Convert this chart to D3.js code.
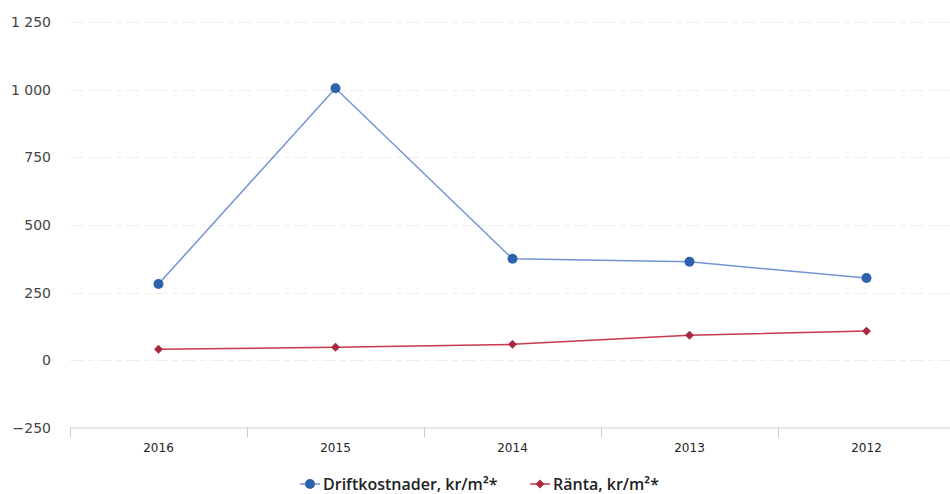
<!DOCTYPE html>
<html>
<head>
<meta charset="utf-8">
<script src="https://cdn.jsdelivr.net/npm/d3@7"></script>
<style>
  html, body { margin: 0; padding: 0; background: #ffffff; }
  svg { display: block; }
</style>
</head>
<body>
<svg id="chart" width="950" height="494"></svg>
<script>
// Data
const years = ["2016", "2015", "2014", "2013", "2012"];
const driftkostnader = [282, 1005, 375, 364, 304];
const ranta = [41, 48, 59, 93, 108];
const yTicks = [-250, 0, 250, 500, 750, 1000, 1250];
const seriesNames = ["Driftkostnader, kr/m²*", "Ränta, kr/m²*"];

const svg = d3.select("#chart");
const margin = { left: 70, right: -5, top: 22, bottom: 67 };
const W = 950, H = 494;

const x = d3.scaleBand()
  .domain(years)
  .range([margin.left, W - margin.right])
  .paddingInner(0).paddingOuter(0);

const y = d3.scaleLinear()
  .domain([-250, 1250])
  .range([428, 22]);

// Horizontal grid lines
svg.append("g")
  .selectAll("line")
  .data(yTicks.filter(d => d !== -250))
  .join("line")
  .attr("x1", margin.left)
  .attr("x2", W)
  .attr("y1", d => Math.round(y(d)) + 0.5)
  .attr("y2", d => Math.round(y(d)) + 0.5)
  .attr("stroke", "#eeeeee")
  .attr("stroke-width", 1)
  .attr("stroke-dasharray", "14,4,6,4");

// Y axis labels
const fmt = d => d3.format(",")(d).replace(/,/g, " ").replace("-", "\u2212");
svg.append("g")
  .selectAll("text")
  .data(yTicks)
  .join("text")
  .attr("x", 51)
  .attr("y", d => y(d))
  .attr("dy", "0.35em")
  .attr("text-anchor", "end")
  .attr("font-family", "'DejaVu Sans', sans-serif")
  .attr("font-size", 14)
  .attr("fill", "#444")
  .text(fmt);

// X axis
const xAxis = d3.axisBottom(x).tickSize(0).tickPadding(0);
const gx = svg.append("g")
  .attr("transform", `translate(0, ${Math.round(y(-250)) - 0.5})`)
  .call(xAxis);
gx.select(".domain").attr("stroke", "#cccccc");
gx.selectAll(".tick text")
  .attr("y", 16)
  .attr("font-family", "'DejaVu Sans', sans-serif")
  .attr("font-size", 12)
  .attr("fill", "#222");

// Tick marks at category boundaries
const bounds = years.map(d => x(d)).concat([x(years[years.length - 1]) + x.bandwidth()]);
gx.append("g")
  .selectAll("line")
  .data(bounds)
  .join("line")
  .attr("x1", d => Math.round(d) + 0.5)
  .attr("x2", d => Math.round(d) + 0.5)
  .attr("y1", 0)
  .attr("y2", 10)
  .attr("stroke", "#cccccc");

const cx = d => x(d) + x.bandwidth() / 2;
const line = d3.line().x(d => cx(d[0])).y(d => y(d[1]));
const diamondPath = d3.symbol().type(d3.symbolSquare).size(40);

// Driftkostnader line
svg.append("path")
  .datum(years.map((yr, i) => [yr, driftkostnader[i]]))
  .attr("d", line)
  .attr("fill", "none")
  .attr("stroke", "#7393d3")
  .attr("stroke-width", 1.5);

svg.append("g")
  .selectAll("circle")
  .data(years.map((yr, i) => [yr, driftkostnader[i]]))
  .join("circle")
  .attr("cx", d => cx(d[0]))
  .attr("cy", d => y(d[1]))
  .attr("r", 5)
  .attr("fill", "#2f62ad");

// Ränta line
svg.append("path")
  .datum(years.map((yr, i) => [yr, ranta[i]]))
  .attr("d", line)
  .attr("fill", "none")
  .attr("stroke", "#c8384e")
  .attr("stroke-width", 1.5);

svg.append("g")
  .selectAll("path")
  .data(years.map((yr, i) => [yr, ranta[i]]))
  .join("path")
  .attr("transform", d => `translate(${cx(d[0])}, ${y(d[1])}) rotate(45)`)
  .attr("d", diamondPath)
  .attr("fill", "#a82a3c");

// Legend
const legend = svg.append("g").attr("transform", "translate(0, 484)");
const items = [
  { name: seriesNames[0], x: 300, color: "#7393d3", mark: "#2f62ad", type: "circle" },
  { name: seriesNames[1], x: 530, color: "#c8384e", mark: "#a82a3c", type: "diamond" }
];
items.forEach(it => {
  const g = legend.append("g").attr("transform", `translate(${it.x}, 0)`);
  g.append("line").attr("x1", 0).attr("x2", 20).attr("y1", 0).attr("y2", 0)
    .attr("stroke", it.color).attr("stroke-width", 1.5);
  if (it.type === "circle") {
    g.append("circle").attr("cx", 10).attr("cy", 0).attr("r", 5).attr("fill", it.mark);
  } else {
    g.append("path").attr("transform", "translate(10,0) rotate(45)")
      .attr("d", diamondPath).attr("fill", it.mark);
  }
  g.append("text")
    .attr("x", 23).attr("y", 0).attr("dy", "0.35em")
    .attr("font-family", "'Open Sans', 'Noto Sans', sans-serif")
    .attr("font-weight", 600)
    .attr("font-size", 16)
    .attr("fill", "#222")
    .text(it.name);
});
</script>
</body>
</html>
